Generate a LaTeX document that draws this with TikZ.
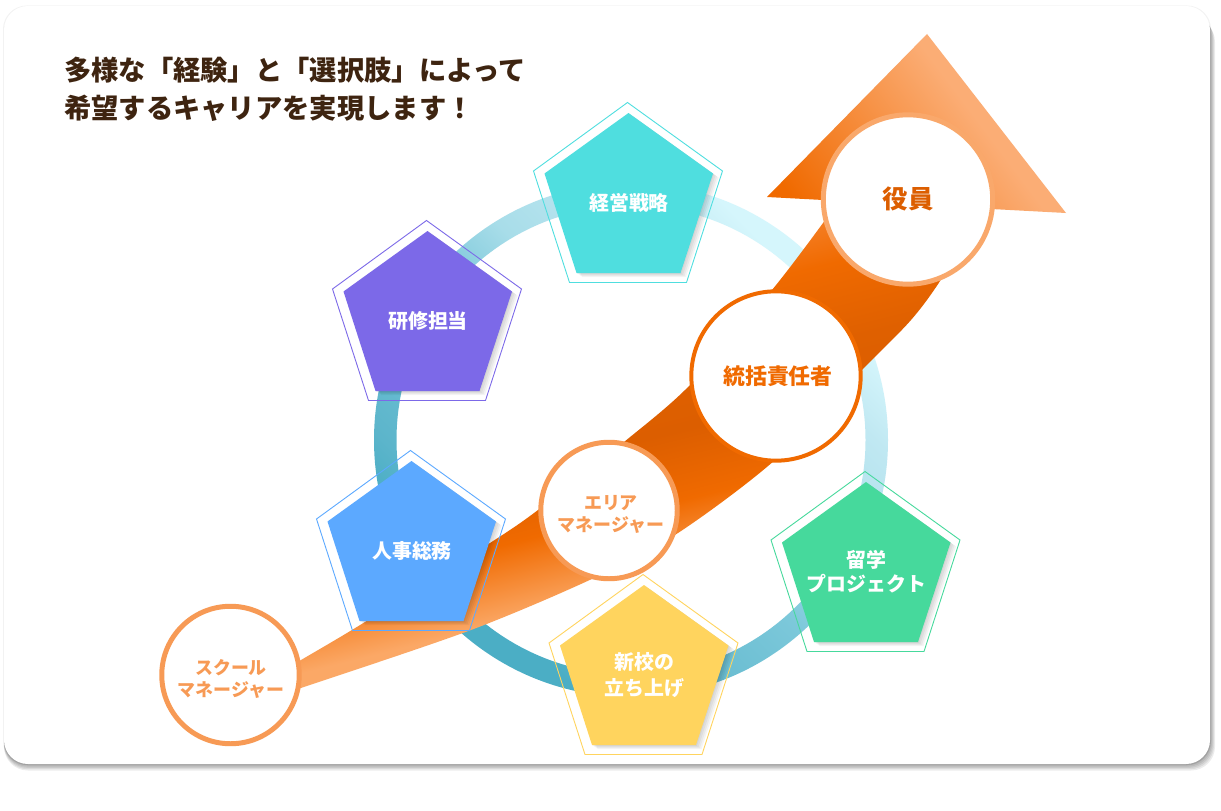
\documentclass[tikz,border=0pt]{standalone}
\usepackage{fontspec}
\setmainfont{Noto Sans CJK JP}[BoldFont={Noto Sans CJK JP Bold}]
\newfontfamily\heavyjp{Noto Sans CJK JP Black}
\definecolor{ra}{HTML}{4BAEC5}\definecolor{rb}{HTML}{5CB5CB}\definecolor{rc}{HTML}{7CC8DA}
\definecolor{rd}{HTML}{A8DDE9}\definecolor{re}{HTML}{C0E8F2}\definecolor{rf}{HTML}{D5F6FC}
\definecolor{oa}{HTML}{FBA866}\definecolor{ob}{HTML}{F06A00}\definecolor{oc}{HTML}{DC5E00}
\definecolor{od}{HTML}{DF6000}\definecolor{oe}{HTML}{F58028}\definecolor{of}{HTML}{FBAD75}
\definecolor{txtbrown}{HTML}{3E2410}\definecolor{ringlight}{HTML}{F9A86B}\definecolor{soft}{HTML}{F79A55}
\definecolor{ptcyan}{HTML}{4FDEDF}\definecolor{ptviolet}{HTML}{7C69E8}\definecolor{ptblue}{HTML}{5CA9FF}
\definecolor{ptyellow}{HTML}{FFD45E}\definecolor{ptgreen}{HTML}{46D99C}
\pgfdeclareverticalshading{ringshade}{1000bp}{color(0bp)=(ra);color(184bp)=(ra);color(226bp)=(rb);color(385bp)=(rc);color(459bp)=(rd);color(573bp)=(re);color(633bp)=(rf);color(800bp)=(rf)}
\pgfdeclareverticalshading{bodyshade}{1600bp}{color(0bp)=(oa);color(108bp)=(oa);color(184bp)=(ob);color(252bp)=(oc);color(301bp)=(od);color(378bp)=(ob);color(427bp)=(oe);color(500bp)=(oe)}
\pgfdeclareverticalshading{headshade}{1000bp}{color(0bp)=(ob);color(173bp)=(ob);color(368bp)=(of);color(600bp)=(of)}
\newcommand{\pentfill}[2]{(#1-0.5,#2) -- ++(84.5,60.5) -- ++(-32.5,99.5) -- ++(-104,0) -- ++(-32,-99.5) -- cycle}
\newcommand{\pentagram}[4]{%
  \foreach \dx/\dy in {1/.8,2.5/2,4/3,5.5/4}{\fill[black,opacity=.045,shift={(\dx,\dy)}] \pentfill{#1}{#2};}
  \fill[#3] \pentfill{#1}{#2};
  \draw[#3,line width=.9,shift={(-1.5,-10.5)}] (#1,#2) -- ++(95,68.5) -- ++(-36,111.5) -- ++(-117,0) -- ++(-36,-111.5) -- cycle;
  \node[pentlabel] (#4) at (#1,#2+90) {\csname lab#4\endcsname};
}
\expandafter\def\csname labkeiei\endcsname{経営戦略}
\expandafter\def\csname labkenshu\endcsname{研修担当}
\expandafter\def\csname labjinji\endcsname{人事総務}
\expandafter\def\csname labshinko\endcsname{新校の\\[2pt]立ち上げ}
\expandafter\def\csname labryugaku\endcsname{留学\\プロジェクト}
\tikzset{
  pentlabel/.style={text=white,font=\heavyjp\fontsize{20}{24}\selectfont,align=center,inner sep=0},
  lvlcircle/.style={circle,fill=white,draw=#1,inner sep=0},
  lvltext/.style={inner sep=0,align=center},
  shadebox/.style={inner sep=0,outer sep=0},
}
\begin{document}
\begin{tikzpicture}[x=1bp,y=-1bp,line join=miter]
\useasboundingbox (0,0) rectangle (1221,811);
\fill[white] (0,0) rectangle (1221,811);
% card
\fill[black,opacity=.05,rounded corners=24] (3,5.5) rectangle (1211,765);
\foreach \k in {5,4,3,2,1,0}{\fill[black,opacity=.075,rounded corners=24] (4,{8+2*\k}) rectangle ({1210+\k},{764+1.3*\k});}
\fill[white,rounded corners=24] (4,6) rectangle (1210,764);
% ring
\begin{scope}[even odd rule]
\clip (631,440) circle (257) (631,440) circle (234.5);
\node[shadebox,rotate=-45] at (631,440) {\pgfuseshading{ringshade}};
\end{scope}
% arrow body
\begin{scope}
\clip plot[smooth,tension=.5] coordinates {(280,672)(301,660)(365,622)(490,543)(538,510)(624,442)(690,385)(772,290)(823,223)(838,200)}
 -- (985,205) -- plot[smooth,tension=.5] coordinates {(985,205)(942,278)(911,320)(862,370)(775,460)(678,533)(594,578)(471,630)(301,688)(280,695)} -- cycle;
\node[shadebox,rotate=14] at (650,440) {\pgfuseshading{bodyshade}};
\end{scope}
% arrow head
\begin{scope}
\clip (927,34) -- (1066,213) -- (767,197) -- cycle;
\node[shadebox,rotate=-53.13] at (900,130) {\pgfuseshading{headshade}};
\end{scope}
% level circles
\node[lvlcircle=ringlight,line width=5,minimum size=170] (yakuin) at (908,199.5) {};
\node[lvlcircle=ob,line width=4,minimum size=170] (tokatsu) at (776,376) {};
\node[lvlcircle=soft,line width=5,minimum size=137] (area) at (609,510.5) {};
\node[lvlcircle=soft,line width=5,minimum size=138] (school) at (230.5,675) {};
\node[lvltext,text=oc,font=\heavyjp\fontsize{25.5}{30}\selectfont] (yakuintext) at (908,199) {役員};
\node[lvltext,text=ob,font=\heavyjp\fontsize{22}{26}\selectfont] (tokatsutext) at (778,376) {統括責任者};
\node[lvltext,text=soft,font=\heavyjp\fontsize{18}{22}\selectfont] (areatext) at (611,514) {エリア\\マネージャー};
\node[lvltext,text=soft,font=\heavyjp\fontsize{18}{22}\selectfont] (schooltext) at (231,679) {スクール\\マネージャー};
% pentagons
\pentagram{629}{113}{ptcyan}{keiei}
\pentagram{428}{231}{ptviolet}{kenshu}
\pentagram{412}{461}{ptblue}{jinji}
\pentagram{644.5}{585}{ptyellow}{shinko}
\pentagram{866.5}{482}{ptgreen}{ryugaku}
% title
\node[anchor=north west,inner sep=0,text=txtbrown,align=left,font=\heavyjp\fontsize{27.4}{38}\selectfont] (title) at (64,57) {多様な「経験」と「選択肢」によって\\希望するキャリアを実現します！};
\end{tikzpicture}
\end{document}
